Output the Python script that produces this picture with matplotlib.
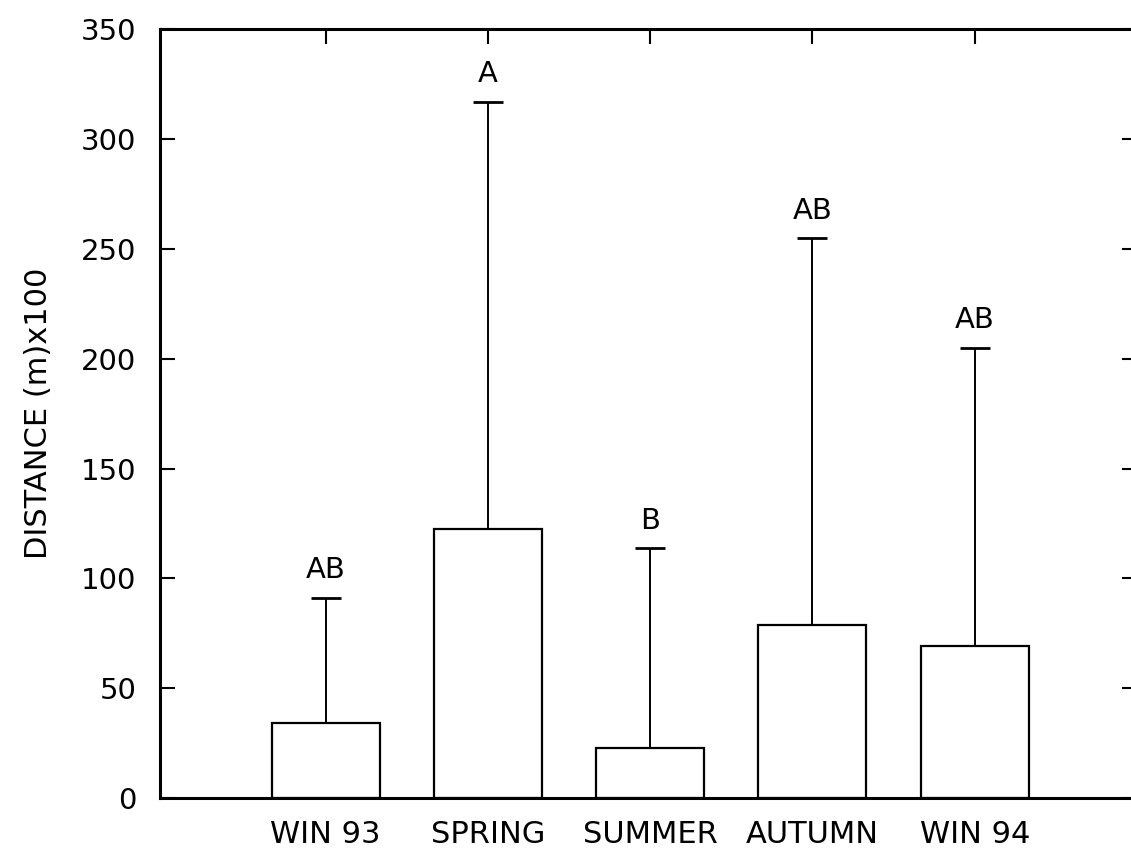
import matplotlib.pyplot as plt

# seasonal mean distance with upper SD bar and significance letters
seasons = ['WIN 93', 'SPRING', 'SUMMER', 'AUTUMN', 'WIN 94']
means = [34.2, 122.6, 22.9, 79.0, 69.2]
upper = [91.2, 317.0, 113.7, 255.0, 205.0]
letters = ['AB', 'A', 'B', 'AB', 'AB']

plt.rcParams['font.family'] = ['DejaVu Sans']

fig = plt.figure(figsize=(11.31, 8.49), dpi=100)
ax = fig.add_axes([0.1415, 0.0601, 0.8638, 0.9052])

x = list(range(len(seasons)))
err = [u - m for u, m in zip(upper, means)]

ax.bar(x, means, width=0.665, color='white', edgecolor='black', linewidth=1.6, zorder=2)
ax.errorbar(x, means, yerr=[[0] * len(x), err], fmt='none', ecolor='black',
            elinewidth=1.4, capsize=11, capthick=2.0, zorder=1)

#letters over the caps
for xi, u, lab in zip(x, upper, letters):
    ax.annotate(lab, (xi, u), xytext=(0, 14), textcoords='offset points',
                ha='center', va='baseline', fontsize=21)

ax.set_xlim(-1.02, 5.0)
ax.set_ylim(0, 350)
ax.set_yticks(range(0, 351, 50))
ax.set_xticks(x)
ax.set_xticklabels(seasons, fontsize=22)
ax.tick_params(axis='y', labelsize=21, direction='in', length=11, width=1.5,
               right=True, pad=17)
ax.tick_params(axis='x', direction='in', length=11, width=1.5, top=True, pad=16)

for s in ax.spines.values():
    s.set_linewidth(2.2)

ax.set_ylabel('DISTANCE (m)x100', fontsize=22, labelpad=20)

plt.savefig('out.png', dpi=100)
